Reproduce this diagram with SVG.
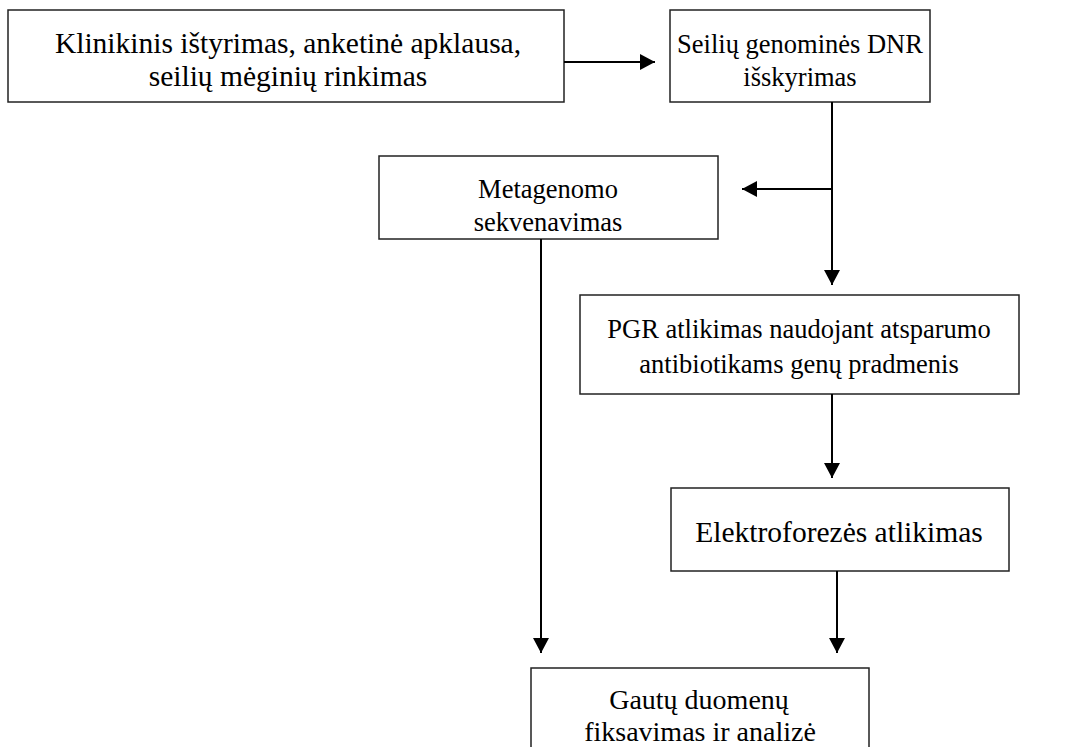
<svg xmlns="http://www.w3.org/2000/svg" width="1077" height="747" viewBox="0 0 1077 747">
<defs>
<marker id="ah" markerWidth="16" markerHeight="16" refX="15" refY="8" orient="auto" markerUnits="userSpaceOnUse">
<path d="M0,0 L15,8 L0,16 Z" fill="#000"/>
</marker>
<style>
.box{fill:#fff;stroke:#222;stroke-width:1.5}
.t{font-family:"Liberation Serif","Times New Roman",serif;font-size:29.5px;fill:#000;text-anchor:middle}
.s{font-size:26.5px}
.m{font-size:28px}
.c{stroke:#000;stroke-width:2;fill:none}
</style>
</defs>
<rect width="1077" height="747" fill="#fff"/>
<g id="n1"><rect class="box" x="8" y="10" width="556" height="92"/>
<text class="t" x="288" y="53">Klinikinis ištyrimas, anketinė apklausa,</text>
<text class="t" x="288" y="86">seilių mėginių rinkimas</text></g>
<g id="n2"><rect class="box" x="670" y="10" width="260" height="92"/>
<text class="t s" x="800" y="53">Seilių genominės DNR</text>
<text class="t s" x="800" y="86">išskyrimas</text></g>
<g id="n3"><rect class="box" x="379" y="156" width="339" height="83"/>
<text class="t s" x="548" y="198">Metagenomo</text>
<text class="t s" x="548" y="231">sekvenavimas</text></g>
<g id="n4"><rect class="box" x="580" y="295" width="439" height="99"/>
<text class="t s" x="799" y="338">PGR atlikimas naudojant atsparumo</text>
<text class="t s" x="799" y="373">antibiotikams genų pradmenis</text></g>
<g id="n5"><rect class="box" x="671" y="488" width="338" height="83"/>
<text class="t" x="839" y="542">Elektroforezės atlikimas</text></g>
<g id="n6"><rect class="box" x="531" y="668" width="338" height="100"/>
<text class="t m" x="699" y="709">Gautų duomenų</text>
<text class="t m" x="700" y="741">fiksavimas ir analizė</text></g>
<g id="connectors">
<line class="c" x1="564" y1="62" x2="655" y2="62" marker-end="url(#ah)"/>
<line class="c" x1="832" y1="102" x2="832" y2="285" marker-end="url(#ah)"/>
<line class="c" x1="832" y1="189" x2="742" y2="189" marker-end="url(#ah)"/>
<line class="c" x1="832" y1="394" x2="832" y2="478" marker-end="url(#ah)"/>
<line class="c" x1="541" y1="239" x2="541" y2="653" marker-end="url(#ah)"/>
<line class="c" x1="837" y1="571" x2="837" y2="653" marker-end="url(#ah)"/>
</g>
</svg>
